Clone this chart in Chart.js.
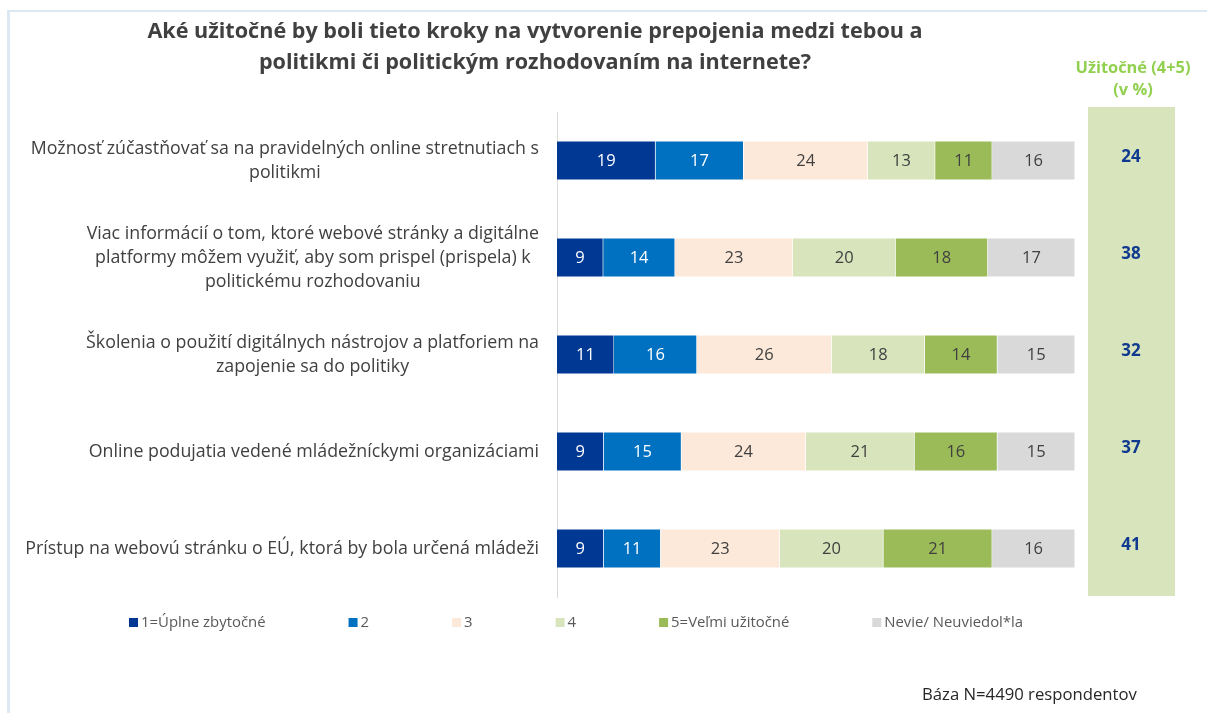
<!DOCTYPE html>
<html lang="sk">
<head>
<meta charset="utf-8">
<title>Užitočnosť krokov</title>
<script src="https://cdn.jsdelivr.net/npm/chart.js@4.4.1/dist/chart.umd.min.js"></script>
<style>
  html, body { margin: 0; padding: 0; background: #fff; }
  #wrap { width: 1207px; height: 713px; position: relative; }
</style>
</head>
<body>
<div id="wrap"><canvas id="chart" width="1207" height="713"></canvas></div>
<script>
// Otázky (kategórie), každá ako riadky textu
const categories = [
  ['Možnosť zúčastňovať sa na pravidelných online stretnutiach s', 'politikmi'],
  ['Viac informácií o tom, ktoré webové stránky a digitálne', 'platformy môžem využiť, aby som prispel (prispela) k', 'politickému rozhodovaniu'],
  ['Školenia o použití digitálnych nástrojov a platforiem na', 'zapojenie sa do politiky'],
  ['Online podujatia vedené mládežníckymi organizáciami'],
  ['Prístup na webovú stránku o EÚ, ktorá by bola určená mládeži'],
];

const seriesNames = ['1=Úplne zbytočné', '2', '3', '4', '5=Veľmi užitočné', 'Nevie/ Neuviedol*la'];
const seriesColors = ['#003893', '#0070c0', '#fde9d9', '#d8e4bc', '#9bbb59', '#d9d9d9'];
const labelColors = ['#ffffff', '#ffffff', '#404040', '#404040', '#404040', '#404040'];

const s1 = [19, 9, 11, 9, 9];
const s2 = [17, 14, 16, 15, 11];
const s3 = [24, 23, 26, 24, 23];
const s4 = [13, 20, 18, 21, 20];
const s5 = [11, 18, 14, 16, 21];
const nevie = [16, 17, 15, 15, 16];

// Užitočné (4+5) v %
const useful = [24, 38, 32, 37, 41];

const titleLines = [
  'Aké užitočné by boli tieto kroky na vytvorenie prepojenia medzi tebou a',
  'politikmi či politickým rozhodovaním na internete?',
];
const panelTitle = ['Užitočné (4+5)', '(v %)'];
const footnote = 'Báza N=4490 respondentov';

const allSeries = [s1, s2, s3, s4, s5, nevie];

// 100 % skladaný graf: každý riadok sa prepočíta na súčet 100
const rowTotals = categories.map((_, i) => allSeries.reduce((sum, s) => sum + s[i], 0));

const FONT = '"Open Sans", Lato, sans-serif';

const datasets = allSeries.map((s, k) => ({
  label: seriesNames[k],
  data: s.map((v, i) => v / rowTotals[i] * 100),
  raw: s,
  backgroundColor: seriesColors[k],
  borderColor: 'rgba(255,255,255,0.7)',
  borderWidth: 0.5,
  barPercentage: 0.4,
  categoryPercentage: 1,
}));

const extras = {
  id: 'extras',
  beforeDraw(chart) {
    const ctx = chart.ctx;
    ctx.save();
    ctx.fillStyle = '#ffffff';
    ctx.fillRect(0, 0, chart.width, chart.height);
    // rám snímky
    ctx.fillStyle = '#dde8f5';
    ctx.fillRect(7, 10, 3, chart.height - 10);
    ctx.fillRect(7, 10, chart.width - 7, 2);
    // zelený panel vpravo
    ctx.fillStyle = '#d8e4bc';
    ctx.fillRect(1088, 107, 87, 489);
    ctx.restore();
  },
  afterDatasetsDraw(chart) {
    const ctx = chart.ctx;
    ctx.save();
    ctx.font = '16.5px ' + FONT;
    ctx.textAlign = 'center';
    ctx.textBaseline = 'middle';
    chart.data.datasets.forEach((ds, k) => {
      const meta = chart.getDatasetMeta(k);
      meta.data.forEach((bar, i) => {
        ctx.fillStyle = labelColors[k];
        ctx.fillText(String(ds.raw[i]), (bar.x + bar.base) / 2, bar.y + 1);
      });
    });
    ctx.restore();
  },
  afterDraw(chart) {
    const ctx = chart.ctx;
    const yScale = chart.scales.y;
    const area = chart.chartArea;
    ctx.save();

    // nadpis
    ctx.fillStyle = '#404040';
    ctx.font = 'bold 21.6px ' + FONT;
    ctx.textAlign = 'center';
    ctx.textBaseline = 'middle';
    titleLines.forEach((t, i) => ctx.fillText(t, 535, 32 + i * 31));

    // popisy kategórií: blok zarovnaný doprava, riadky centrované
    ctx.font = '17.8px ' + FONT;
    ctx.fillStyle = '#404040';
    const lineH = 24;
    categories.forEach((lines, i) => {
      const y = yScale.getPixelForValue(i);
      const w = Math.max(...lines.map(l => ctx.measureText(l).width));
      const cx = area.left - 18 - w / 2;
      const y0 = y - (lines.length - 1) * lineH / 2;
      lines.forEach((l, j) => ctx.fillText(l, cx, y0 + j * lineH));
    });

    // panel Užitočné (4+5)
    ctx.fillStyle = '#92d050';
    ctx.font = 'bold 16.4px ' + FONT;
    panelTitle.forEach((t, i) => ctx.fillText(t, 1133, 68 + i * 22));
    ctx.fillStyle = '#0f3a8f';
    ctx.font = 'bold 17px ' + FONT;
    useful.forEach((v, i) => ctx.fillText(String(v), 1131, yScale.getPixelForValue(i) - 3));

    // legenda
    ctx.font = '14.9px ' + FONT;
    ctx.textAlign = 'left';
    let x = 129;
    const ly = 623;
    seriesNames.forEach((name, k) => {
      ctx.fillStyle = seriesColors[k];
      ctx.fillRect(x, ly - 5, 9, 9);
      ctx.fillStyle = '#595959';
      ctx.fillText(name, x + 12, ly);
      x += 12 + ctx.measureText(name).width + 83;
    });

    // poznámka
    ctx.fillStyle = '#262626';
    ctx.font = '16.7px ' + FONT;
    ctx.fillText(footnote, 922, 695);
    ctx.restore();
  },
};

new Chart(document.getElementById('chart'), {
  type: 'bar',
  data: {
    labels: categories,
    datasets: datasets,
  },
  options: {
    indexAxis: 'y',
    responsive: false,
    animation: false,
    layout: {
      padding: { left: 549, right: 132, top: 112, bottom: 116 },
    },
    scales: {
      x: {
        stacked: true,
        display: false,
        min: 0,
        max: 100,
      },
      y: {
        stacked: true,
        ticks: { display: false },
        grid: { display: false },
        border: { display: true, color: '#d9d9d9', width: 1 },
      },
    },
    plugins: {
      legend: { display: false },
      title: { display: false },
      tooltip: { enabled: false },
    },
  },
  plugins: [extras],
});
</script>
</body>
</html>
